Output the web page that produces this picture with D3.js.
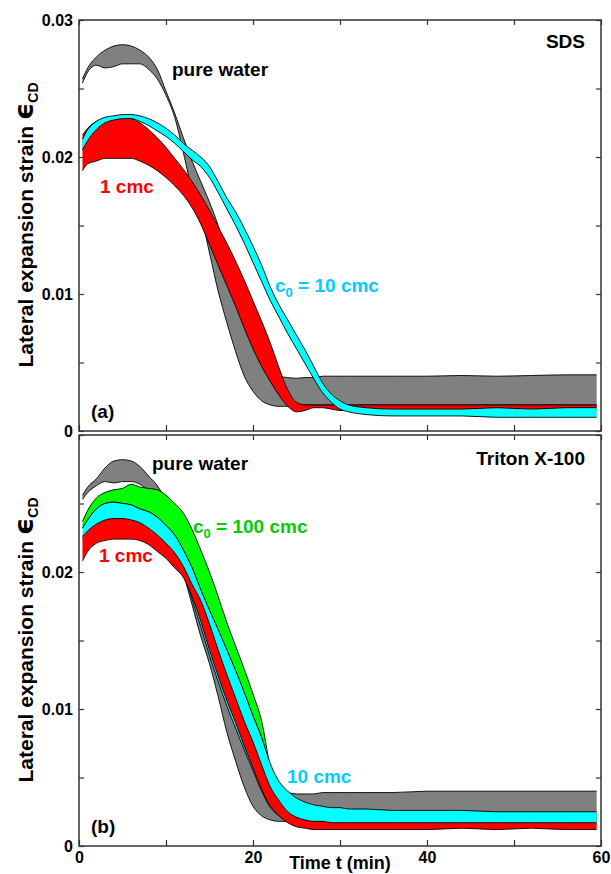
<!DOCTYPE html>
<html><head><meta charset="utf-8">
<script src="https://cdn.jsdelivr.net/npm/d3@7"></script>
<style>
body{margin:0;background:#fff}
svg{display:block}
text{font-family:"Liberation Sans",Arial,Helvetica,sans-serif;font-weight:bold}
</style>
</head><body>
<svg id="chart" width="611" height="874"></svg>
<script>
// ---------------- DATA ----------------
const time = [0.4,1,2,3,4,5,6,7,8,9,10,11,12,13,14,15,16,17,18,19,20,21,22,23,24,25,26,27,28,29,30,31,33,36,40,44,48,52,56,59.5];

// Panel (a): SDS
const sdsWaterHi = [0.0257,0.0265,0.0273,0.0278,0.0281,0.0282,0.0281,0.0278,0.0273,0.0264,
  0.0248,0.0232,0.0214,0.0197,0.0182,0.0167,0.0150,0.0130,0.0110,0.0090,
  0.0072,0.0057,0.0046,0.0040,0.0039,0.00385,0.0039,0.0039,0.0040,0.0040,
  0.0040,0.0040,0.0040,0.0040,0.0040,0.00405,0.0040,0.00405,0.0041,0.0041];
const sdsWaterLo = [0.0254,0.0262,0.0267,0.0265,0.0266,0.0268,0.0268,0.0268,0.0264,0.0257,
  0.0245,0.0229,0.0203,0.0176,0.0158,0.0130,0.0102,0.0079,0.0058,0.0040,
  0.0029,0.0022,0.0019,0.0018,0.0018,0.0019,0.0019,0.0019,0.0019,0.0019,
  0.0019,0.0019,0.0019,0.0019,0.0019,0.0019,0.0019,0.0019,0.0019,0.0019];
const sds1Hi = [0.0216,0.0221,0.0226,0.0228,0.0229,0.0229,0.0228,0.0225,0.0220,0.0214,
  0.0207,0.0199,0.0191,0.0182,0.0172,0.0161,0.0149,0.0137,0.0124,0.0110,
  0.0095,0.0080,0.0064,0.0046,0.0030,0.0021,0.0019,0.0019,0.0019,0.0019,
  0.0019,0.0019,0.0019,0.0019,0.0019,0.0019,0.0019,0.0019,0.0019,0.0019];
const sds1Lo = [0.0190,0.0195,0.0197,0.0199,0.0199,0.0199,0.0199,0.0197,0.0194,0.0190,
  0.0185,0.0179,0.0172,0.0163,0.0151,0.0136,0.0121,0.0106,0.0091,0.0075,
  0.0060,0.0047,0.0036,0.0026,0.0018,0.0014,0.0015,0.0017,0.0017,0.0016,
  0.0015,0.0015,0.0015,0.0015,0.0015,0.0015,0.0015,0.0015,0.0015,0.0015];
const sds10Hi = [0.0213,0.0220,0.0226,0.0229,0.0230,0.0231,0.0231,0.0230,0.0228,0.0225,
  0.0221,0.0216,0.0210,0.0205,0.0200,0.0193,0.0182,0.0170,0.0160,0.0148,
  0.0135,0.0121,0.0105,0.0092,0.0081,0.0070,0.0059,0.0047,0.0035,0.0027,
  0.0022,0.0019,0.0017,0.0016,0.0016,0.0016,0.0017,0.0016,0.0017,0.0017];
const sds10Lo = [0.0205,0.0212,0.0220,0.0225,0.0227,0.0228,0.0228,0.0226,0.0223,0.0219,
  0.0215,0.0210,0.0204,0.0198,0.0193,0.0185,0.0174,0.0162,0.0150,0.0137,
  0.0123,0.0109,0.0095,0.0083,0.0071,0.0060,0.0049,0.0038,0.0028,0.0021,
  0.0016,0.0014,0.0012,0.0011,0.0011,0.0011,0.0010,0.0010,0.0010,0.0010];

// Panel (b): Triton X-100
const tritonWaterHi = [0.0256,0.0262,0.0268,0.0276,0.0281,0.0282,0.0281,0.0277,0.0270,0.0263,
  0.0252,0.0236,0.0218,0.0198,0.0176,0.0155,0.0134,0.0115,0.0098,0.0082,
  0.0066,0.0052,0.0044,0.0040,0.0039,0.0038,0.0038,0.0038,0.0039,0.0039,
  0.0039,0.0039,0.0039,0.0039,0.0040,0.0040,0.0040,0.0040,0.0040,0.0040];
const tritonWaterLo = [0.0253,0.0258,0.0263,0.0266,0.0265,0.0266,0.0266,0.0264,0.0259,0.0250,
  0.0240,0.0222,0.0199,0.0176,0.0153,0.0133,0.0109,0.0083,0.0062,0.0043,
  0.0029,0.0022,0.0019,0.0018,0.0018,0.0018,0.0018,0.0018,0.0018,0.0018,
  0.0018,0.0018,0.0018,0.0018,0.0018,0.0018,0.0018,0.0018,0.0018,0.0018];
const triton100Hi = [0.0237,0.0245,0.0254,0.0258,0.0260,0.0261,0.0264,0.0262,0.0261,0.0260,
  0.0256,0.0250,0.0243,0.0231,0.0216,0.0200,0.0182,0.0163,0.0146,0.0129,
  0.0111,0.0091,0.0058,0.0044,0.0036,0.0031,0.0027,0.0025,0.0024,0.0023,
  0.0023,0.0023,0.0023,0.0023,0.0023,0.0023,0.0023,0.0023,0.0023,0.0023];
const triton100Lo = [0.0232,0.0238,0.0246,0.0250,0.0251,0.0250,0.0249,0.0246,0.0244,0.0240,
  0.0234,0.0227,0.0216,0.0203,0.0187,0.0172,0.0158,0.0143,0.0128,0.0112,
  0.0095,0.0079,0.0055,0.0041,0.0033,0.0028,0.0024,0.0022,0.0021,0.0020,
  0.0020,0.0020,0.0020,0.0020,0.0020,0.0020,0.0020,0.0020,0.0020,0.0020];
const triton10Hi = [0.0232,0.0238,0.0246,0.0250,0.0251,0.0250,0.0249,0.0246,0.0244,0.0240,
  0.0234,0.0227,0.0216,0.0203,0.0187,0.0172,0.0158,0.0143,0.0128,0.0112,
  0.0095,0.0079,0.0060,0.0047,0.0040,0.0035,0.0032,0.0030,0.0029,0.0028,
  0.0028,0.0027,0.0027,0.0026,0.0026,0.0026,0.0025,0.0025,0.0025,0.0025];
const triton10Lo = [0.0224,0.0228,0.0233,0.0236,0.0237,0.0237,0.0236,0.0234,0.0230,0.0225,
  0.0219,0.0212,0.0202,0.0180,0.0160,0.0139,0.0120,0.0102,0.0086,0.0070,
  0.0055,0.0040,0.0028,0.0022,0.0018,0.0016,0.0016,0.0016,0.0016,0.0016,
  0.0016,0.0016,0.0016,0.0016,0.0016,0.0016,0.0016,0.0016,0.0016,0.0016];
const triton1Hi = [0.0226,0.0230,0.0235,0.0238,0.0239,0.0239,0.0238,0.0236,0.0232,0.0227,
  0.0221,0.0214,0.0204,0.0191,0.0179,0.0162,0.0143,0.0125,0.0108,0.0091,
  0.0076,0.0059,0.0043,0.0033,0.0025,0.0021,0.0019,0.0018,0.0018,0.0017,
  0.0017,0.0017,0.0017,0.0017,0.0017,0.0017,0.0017,0.0017,0.0017,0.0017];
const triton1Lo = [0.0208,0.0215,0.0221,0.0223,0.0224,0.0224,0.0224,0.0223,0.0220,0.0215,
  0.0210,0.0203,0.0196,0.0182,0.0164,0.0143,0.0124,0.0106,0.0090,0.0073,
  0.0057,0.0041,0.0029,0.0022,0.0017,0.0014,0.0013,0.0012,0.0012,0.0012,
  0.0012,0.0012,0.0012,0.0012,0.0012,0.0013,0.0012,0.0013,0.0012,0.0012];

// Ticks
const xTickValues = [0,10,20,30,40,50,60];
const xTickLabels = ["0","20","40","60"];
const yTickValues = [0,0.005,0.01,0.015,0.02,0.025,0.03];
const yTickLabels = ["0","0.01","0.02","0.03"];

// ---------------- LAYOUT ----------------
const svg = d3.select("#chart");
const x = d3.scaleLinear().domain([0,60]).range([79,601]);
const yTop = d3.scaleLinear().domain([0,0.03]).range([431,20]);
const yBot = d3.scaleLinear().domain([0,0.03]).range([846,435]);

const GRAY="#808080", RED="#ff0000", CYAN="#00ffff", GREEN="#00ff00";

function drawBand(g, y, hi, lo, fill){
  const data = time.map((t,i)=>({t, hi:hi[i], lo:lo[i]}));
  const area = d3.area().x(d=>x(d.t)).y0(d=>y(d.lo)).y1(d=>y(d.hi)).curve(d3.curveMonotoneX);
  g.append("path").datum(data).attr("d",area).attr("fill",fill).attr("stroke","none");
  const lineHi = d3.line().x(d=>x(d.t)).y(d=>y(d.hi)).curve(d3.curveMonotoneX);
  const lineLo = d3.line().x(d=>x(d.t)).y(d=>y(d.lo)).curve(d3.curveMonotoneX);
  g.append("path").datum(data).attr("d",lineHi).attr("fill","none").attr("stroke","#000").attr("stroke-width",0.9);
  g.append("path").datum(data).attr("d",lineLo).attr("fill","none").attr("stroke","#000").attr("stroke-width",0.9);
}

function styleAxis(sel, fs){
  sel.select(".domain").remove();
  sel.selectAll(".tick line").attr("stroke","#333").attr("stroke-width",1.2);
  sel.selectAll(".tick text").attr("fill","#000").style("font-size",fs+"px")
     .style("font-family",'"Liberation Sans",Arial,sans-serif').style("font-weight","bold");
}

function drawFrame(g, y, showTop03, showXLabels){
  const yfmt = d => { const k = Math.round(d*100); if (Math.abs(d*100-k)>1e-6) return ""; if(!showTop03 && k===3) return ""; return yTickLabels[k]; };
  g.append("g").attr("transform",`translate(${x(0)},0)`)
    .call(d3.axisLeft(y).tickValues(yTickValues).tickSize(-5).tickPadding(6).tickFormat(yfmt))
    .call(s=>styleAxis(s,16));
  g.append("g").attr("transform",`translate(${x(60)},0)`)
    .call(d3.axisRight(y).tickValues(yTickValues).tickSize(-5).tickFormat(""))
    .call(s=>styleAxis(s,16));
  g.append("g").attr("transform",`translate(0,${y(0.03)})`)
    .call(d3.axisTop(x).tickValues(xTickValues).tickSize(-5).tickFormat(""))
    .call(s=>styleAxis(s,16));
  const xfmt = d => showXLabels && d%20===0 ? xTickLabels[d/20] : "";
  g.append("g").attr("transform",`translate(0,${y(0)})`)
    .call(d3.axisBottom(x).tickValues(xTickValues).tickSize(-6).tickPadding(6).tickFormat(xfmt))
    .call(s=>styleAxis(s,16));
  g.append("rect").attr("x",x(0)).attr("y",y(0.03)).attr("width",x(60)-x(0)).attr("height",y(0)-y(0.03))
    .attr("fill","none").attr("stroke","#333").attr("stroke-width",1.5);
}

function yTitle(cy){
  const t = svg.append("text").attr("transform",`translate(33,${cy}) rotate(-90)`)
    .attr("text-anchor","middle").style("font-size","21px").attr("fill","#000");
  t.append("tspan").text("Lateral expansion strain ");
  t.append("tspan").text("\u03F5").style("font-family","'DejaVu Sans',sans-serif").style("font-size","27px").style("font-weight","bold");
  t.append("tspan").text("CD").attr("dy",5).style("font-size","14px");
}

function label(txt, px, py, color, anchor){
  return svg.append("text").attr("x",px).attr("y",py).attr("fill",color)
    .attr("text-anchor",anchor||"start").style("font-size","19px").text(txt);
}
function labelSub(pre, sub, post, px, py, color){
  const t = svg.append("text").attr("x",px).attr("y",py).attr("fill",color).style("font-size","19px");
  t.append("tspan").text(pre);
  t.append("tspan").text(sub).attr("dy",5).style("font-size","13px");
  t.append("tspan").text(post).attr("dy",-5);
}

// ---------- Panel (a) ----------
const gA = svg.append("g");
drawBand(gA, yTop, sdsWaterHi, sdsWaterLo, GRAY);
drawBand(gA, yTop, sds1Hi, sds1Lo, RED);
drawBand(gA, yTop, sds10Hi, sds10Lo, CYAN);
drawFrame(gA, yTop, true, false);

// ---------- Panel (b) ----------
const gB = svg.append("g");
drawBand(gB, yBot, tritonWaterHi, tritonWaterLo, GRAY);
drawBand(gB, yBot, triton100Hi, triton100Lo, GREEN);
drawBand(gB, yBot, triton10Hi, triton10Lo, CYAN);
drawBand(gB, yBot, triton1Hi, triton1Lo, RED);
drawFrame(gB, yBot, false, true);

// Titles
yTitle(225);
yTitle(640);
svg.append("text").attr("x",340).attr("y",869).attr("text-anchor","middle")
  .style("font-size","18px").attr("fill","#000").text("Time t (min)");

// Annotations panel (a)
label("SDS", 585, 48, "#000", "end");
label("pure water", 172, 76, "#000");
label("1 cmc", 100, 193, "#ff0000");
labelSub("c","0"," = 10 cmc", 275, 292, "#00ccff");
label("(a)", 91, 418, "#000");

// Annotations panel (b)
label("Triton X-100", 585, 465, "#000", "end");
label("pure water", 152, 470, "#000");
labelSub("c","0"," = 100 cmc", 193, 533, "#00cc00");
label("1 cmc", 99, 562, "#ff0000");
label("10 cmc", 287, 783, "#00ccff");
label("(b)", 91, 833, "#000");
</script>
</body></html>
